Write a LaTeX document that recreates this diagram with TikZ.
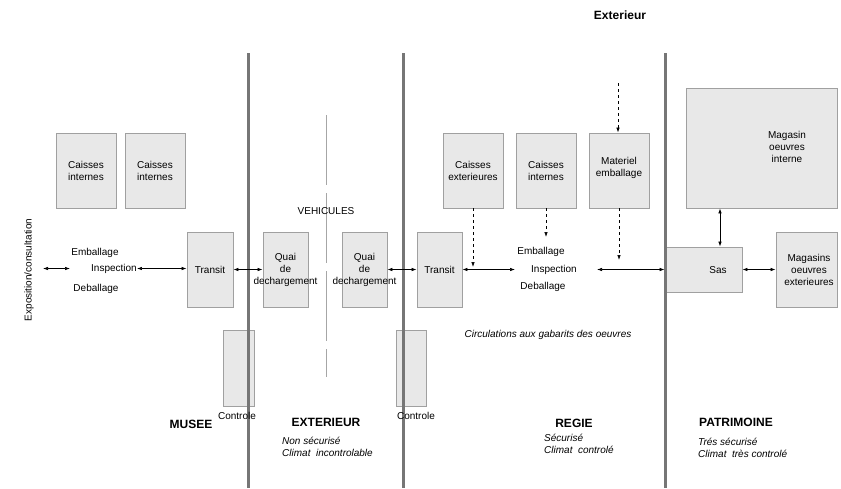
\documentclass[tikz,border=0pt]{standalone}
\usepackage{fontspec}
\setmainfont{Liberation Sans}
\usetikzlibrary{arrows.meta,calc}
\definecolor{wallgray}{RGB}{118,118,118}
\definecolor{boxfill}{RGB}{232,232,232}
\definecolor{boxdraw}{RGB}{160,160,160}
\tikzset{
  box/.style={draw=boxdraw, fill=boxfill, line width=0.8pt, inner sep=0pt, align=center,
    font=\fontsize{10}{12}\selectfont},
  txt/.style={inner sep=0pt, font=\fontsize{10}{12}\selectfont},
  itxt/.style={inner sep=0pt, anchor=west, font=\fontsize{10}{12}\selectfont\itshape, align=left},
  zone/.style={inner sep=0pt, font=\fontsize{12}{14}\selectfont\bfseries},
  wall/.style={line width=3pt, draw=wallgray},
  biarrow/.style={line width=0.7pt, {Latex[length=5pt,width=3.5pt]}-{Latex[length=5pt,width=3.5pt]}},
  dasharrow/.style={line width=0.7pt, dashed, -{Latex[length=5pt,width=3.5pt]}},
}
\begin{document}
\begin{tikzpicture}[x=1pt,y=-1pt]
\useasboundingbox (0,0) rectangle (841,488);
\fill[white] (0,0) rectangle (841,488);

% thin dashed line (vehicles)
\draw[gray!70, line width=0.6pt, dash pattern=on 70pt off 8pt] (326,115) -- (326,377);

% boxes
\node[box, minimum width=60pt, minimum height=75pt] (ci1) at (86,170.5) {Caisses\\internes};
\node[box, minimum width=60pt, minimum height=75pt] (ci2) at (155,170.5) {Caisses\\internes};
\node[box, minimum width=46pt, minimum height=75pt] (tr1) at (210,269.5) {Transit};
\node[box, minimum width=31pt, minimum height=76pt] (ctl1) at (238.5,368) {};
\node[box, minimum width=45pt, minimum height=75pt] (q1) at (285.5,269.5) {};
\node[box, minimum width=45pt, minimum height=75pt] (q2) at (364.5,269.5) {};
\node[box, minimum width=45pt, minimum height=75pt] (tr2) at (439.5,269.5) {Transit};
\node[box, minimum width=30pt, minimum height=76pt] (ctl2) at (411,368) {};
\node[box, minimum width=60pt, minimum height=75pt] (ce) at (473,170.5) {Caisses\\exterieures};
\node[box, minimum width=60pt, minimum height=75pt] (ci3) at (546,170.5) {Caisses\\internes};
\node[box, minimum width=60pt, minimum height=75pt] (me) at (619,170.5) {};
\node[box, minimum width=151pt, minimum height=120pt] (mi) at (761.5,148) {};
\node[box, minimum width=77pt, minimum height=45pt] (sas) at (703.5,269.5) {};
\node[box, minimum width=61pt, minimum height=75pt] (mext) at (806.5,269.5) {};

\node[txt, align=center] (q1txt) at (q1) {Quai\\de\\dechargement};
\node[txt, align=center] (q2txt) at (q2) {Quai\\de\\dechargement};
\node[txt, align=center] (metxt) at (619,168) {Materiel\\emballage};
\node[txt, align=center] (mitxt) at (787,147) {Magasin\\oeuvres\\interne};
\node[txt] (sastxt) at (718,270) {Sas};
\node[txt, align=center] (mexttxt) at (809,270) {Magasins\\oeuvres\\exterieures};

% walls
\draw[wall] (248,53) -- (248,488);
\draw[wall] (403,53) -- (403,488);
\draw[wall] (665,53) -- (665,488);

% left texts
\node[txt, rotate=90] (expo) at (29,270) {Exposition/consultation};
\node[txt] (emb1) at (95,253) {Emballage};
\node[txt] (insp1) at (114,268.5) {Inspection};
\node[txt] (deb1) at (96,289) {Deballage};

\node[txt] (emb2) at (541,252) {Emballage};
\node[txt] (insp2) at (554,269.5) {Inspection};
\node[txt] (deb2) at (543,287) {Deballage};

\node[txt] (veh) at (326,211) {VEHICULES};
\node[txt] (ctltxt1) at (237,416) {Controle};
\node[txt] (ctltxt2) at (416,416) {Controle};
\node[txt, font=\fontsize{10}{12}\selectfont\itshape] (circ) at (548,335) {Circulations aux gabarits des oeuvres};

\node[zone] (ext0) at (620,15) {Exterieur};
\node[zone] (musee) at (191,424) {MUSEE};
\node[zone] (exte) at (326,422) {EXTERIEUR};
\node[itxt] (exdesc) at (282,446.5) {Non sécurisé\\Climat\ \ incontrolable};
\node[zone] (regie) at (574,423) {REGIE};
\node[itxt] (rgdesc) at (544,444) {Sécurisé\\Climat\ \ controlé};
\node[zone] (patr) at (736,422) {PATRIMOINE};
\node[itxt] (ptdesc) at (698,448) {Trés sécurisé\\Climat\ \ très controlé};

% coordinates
\coordinate (l1) at (43,268.5);
\coordinate (l2) at (70,268.5);
\coordinate (r1) at (515,269.5);
\coordinate (r2) at (597,269.5);
\coordinate (ceend) at (473,267);
\coordinate (ci3end) at (546,237);
\coordinate (meend) at (619,260);
\coordinate (topstart) at (618,83);
\coordinate (vx) at (720,0);

% arrows
\draw[biarrow] (l1) -- (l2);
\draw[biarrow] (insp1.east) -- (tr1.west |- insp1.east);
\draw[biarrow] (tr1.east) -- (q1.west);
\draw[biarrow] (q2.east) -- (tr2.west);
\draw[biarrow] (tr2.east) -- (r1);
\draw[biarrow] (r2) -- (sas.west);
\draw[biarrow] (sas.east) -- (mext.west);
\draw[biarrow] (mi.south -| vx) -- (sas.north -| vx);

\draw[dasharrow] (ce.south) -- (ceend);
\draw[dasharrow] (ci3.south) -- (ci3end);
\draw[dasharrow] (me.south) -- (meend);
\draw[dasharrow] (topstart) -- (me.north -| topstart);
\end{tikzpicture}
\end{document}
